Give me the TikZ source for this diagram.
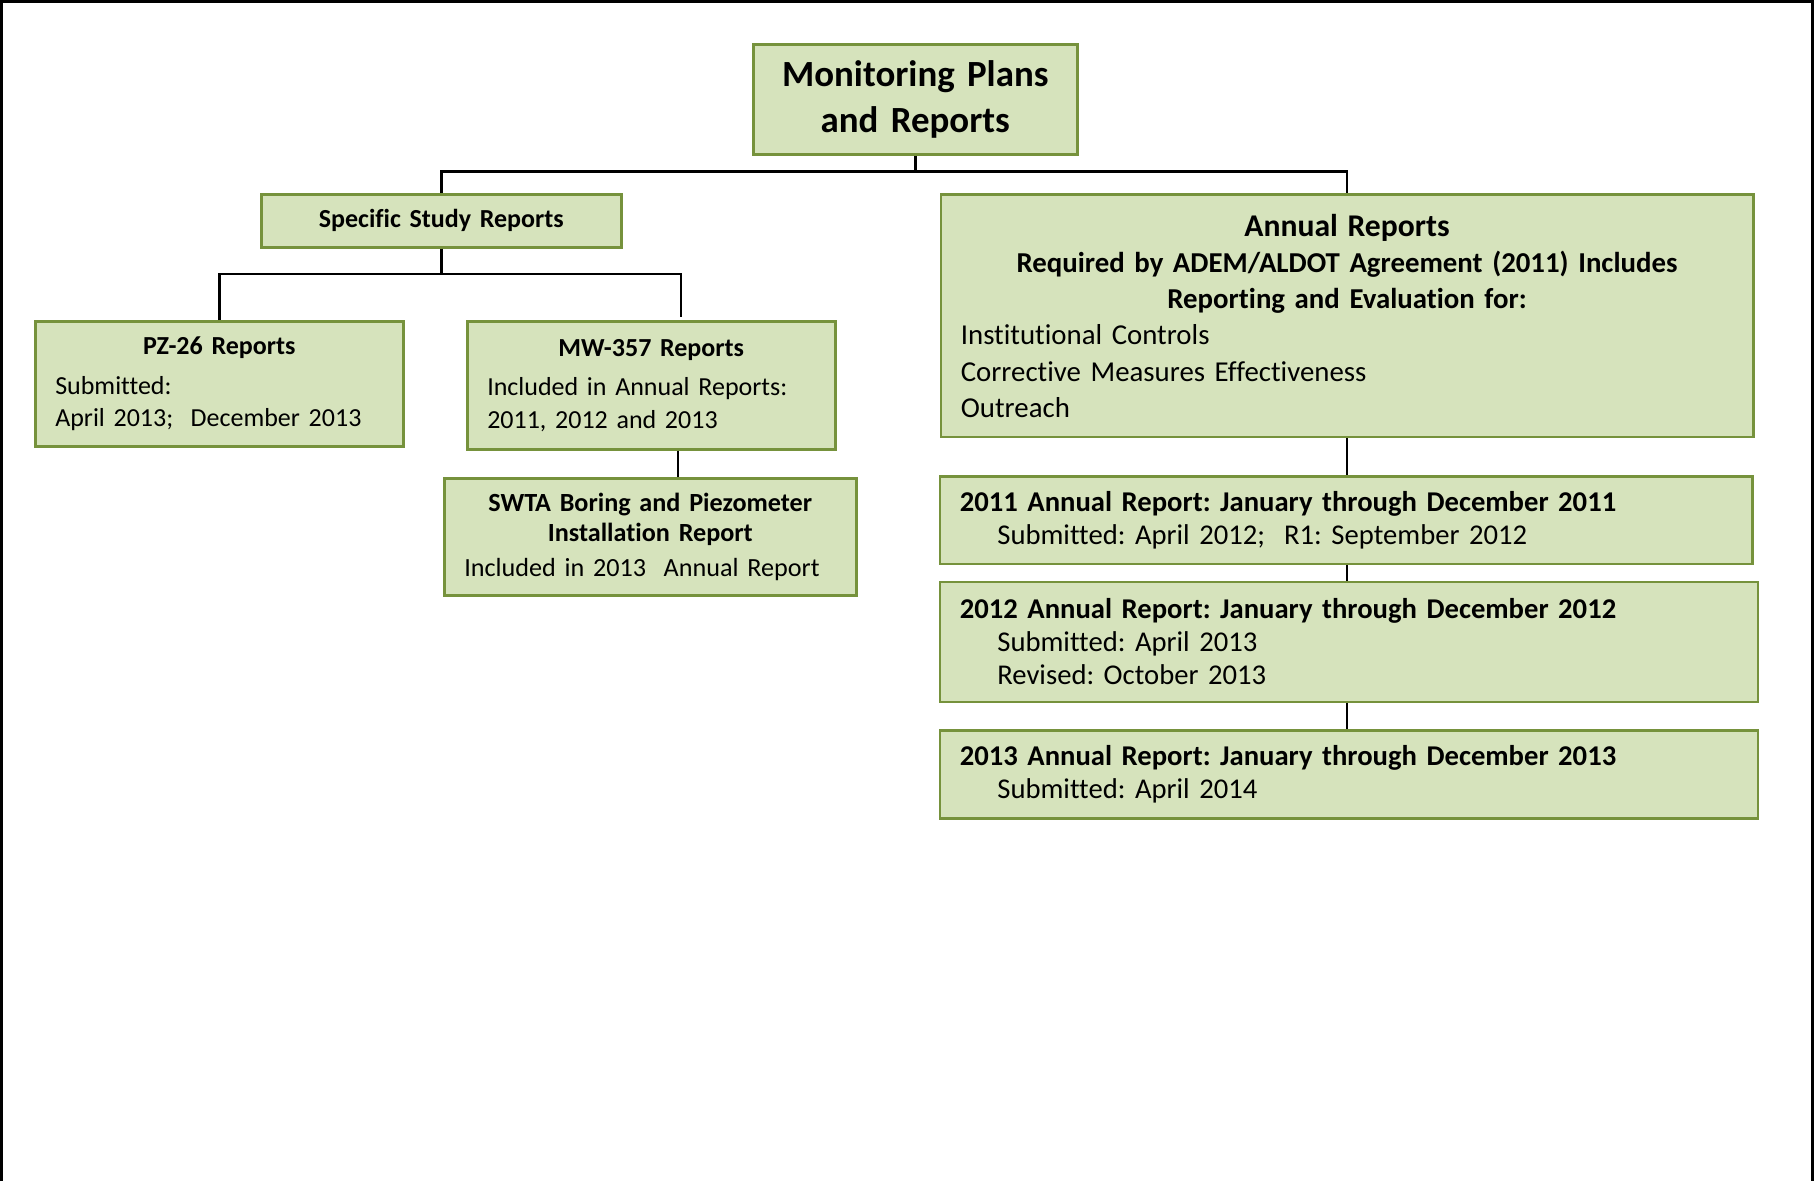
\documentclass[tikz,border=0pt]{standalone}
\usepackage{fontspec}
\setmainfont{Carlito}[Ligatures=CommonOff]
\frenchspacing

\definecolor{boxfill}{HTML}{D6E3BC}
\definecolor{boxline}{HTML}{76923C}

\tikzset{
    box/.style={draw=boxline, fill=boxfill, line width=0.25mm, anchor=north west, inner xsep=2mm, inner ysep=0pt},
    bigtext/.style={font=\fontsize{10.5}{13.1}\selectfont},
    leftext/.style={font=\fontsize{7.4}{9.25}\selectfont},
    swtatext/.style={font=\fontsize{7.45}{8.4}\selectfont},
    annualtext/.style={font=\fontsize{8.2}{10.3}\selectfont},
    yeartext/.style={font=\fontsize{8.15}{9.4}\selectfont},
    link/.style={draw=black, line width=0.28mm},
}

\begin{document}
\begin{tikzpicture}[x=0.1mm, y=-0.1mm]
        \useasboundingbox (0,0) rectangle (1814,1181);
        \draw[line width=0.3mm] (1.5,1181) -- (1.5,1.5) -- (1812.5,1.5) -- (1812.5,1181);

        \node[box, bigtext, text width=28.4mm, minimum height=11mm] (plans) at (752,43)
            {\centering\bfseries Monitoring Plans\\and Reports\par\vspace{0.4mm}};

        \node[box, leftext, text width=32mm, minimum height=5.3mm] (ssr) at (260,193)
            {\centering\bfseries Specific Study Reports\par};

        \node[box, leftext, text width=32.8mm, minimum height=12.5mm] (pz) at (34,320)
            {{\centering\bfseries PZ-26 Reports\par}\vspace{2pt}\raggedright Submitted:\\April 2013;\ \ December 2013\par};

        \node[box, leftext, text width=32.8mm, minimum height=12.8mm] (mw) at (466,320)
            {{\centering\bfseries MW-357 Reports\par}\vspace{2pt}\raggedright Included in Annual Reports:\\2011, 2012 and 2013\par};

        \node[box, swtatext, text width=37.2mm, minimum height=11.7mm] (swta) at (443,477)
            {{\centering\bfseries SWTA Boring and Piezometer\\Installation Report\par}\vspace{1.6pt}\raggedright Included in 2013\ \ Annual Report\par};

        \node[box, annualtext, text width=77.24mm, minimum height=24.24mm] (annual) at (939.6,193.3)
            {{\centering\bfseries{\fontsize{9}{10.3}\selectfont Annual Reports}\\Required by ADEM/ALDOT Agreement (2011) Includes\\Reporting and Evaluation for:\par}\raggedright Institutional Controls\\Corrective Measures Effectiveness\\Outreach\par\vspace{0.6mm}};

        \node[box, yeartext, text width=77.24mm, minimum height=8.77mm] (y2011) at (938.6,475)
            {\raggedright\textbf{2011 Annual Report: January through December 2011}\\\hspace*{3.75mm}Submitted: April 2012;\ \ R1: September 2012\par};

        \node[box, yeartext, text width=77.8mm, minimum height=12mm] (y2012) at (938.6,580.7)
            {\raggedright\textbf{2012 Annual Report: January through December 2012}\\\hspace*{3.75mm}Submitted: April 2013\\\hspace*{3.75mm}Revised: October 2013\par};

        \node[box, yeartext, text width=77.8mm, minimum height=8.8mm] (y2013) at (938.6,729)
            {\raggedright\textbf{2013 Annual Report: January through December 2013}\\\hspace*{3.75mm}Submitted: April 2014\par};

        \coordinate (topbar) at (0,171.7);
        \coordinate (ssrbar) at (0,274);
        \coordinate (mwtap) at (681,317);
        \coordinate (swtatap) at (678,0);

        \draw[link] (plans.south) -- (plans.south |- topbar);
        \draw[link] (ssr.north) |- (topbar -| annual.north) -- (annual.north);
        \draw[link] (ssr.south) -- (ssr.south |- ssrbar);
        \draw[link] (pz.north) |- (ssrbar -| mwtap) -- (mwtap);
        \draw[link] (mw.south -| swtatap) -- (swta.north -| swtatap);
        \draw[link] (annual.south) -- (annual.south |- y2011.north);
        \draw[link] (y2011.south -| annual.south) -- (y2012.north -| annual.south);
        \draw[link] (y2012.south -| annual.south) -- (y2013.north -| annual.south);
\end{tikzpicture}
\end{document}
